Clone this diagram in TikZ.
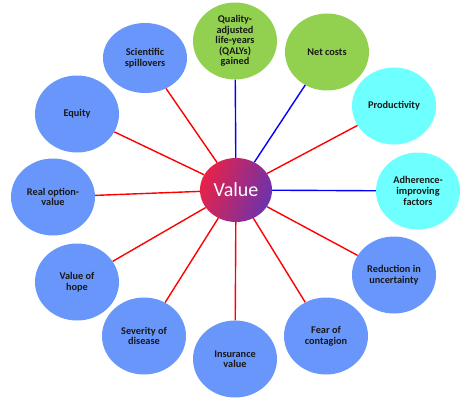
\documentclass[tikz,border=0pt]{standalone}
\usepackage{fontspec}
\setmainfont{Carlito}
\usetikzlibrary{shapes.geometric}
\definecolor{valblue}{RGB}{104,150,250}
\definecolor{valgreen}{RGB}{146,208,80}
\definecolor{valcyan}{RGB}{110,255,255}
\definecolor{valred}{RGB}{232,34,72}
\definecolor{valpurple}{RGB}{108,50,172}

\begin{document}
\begin{tikzpicture}[x=1pt,y=-1pt,
  bubble/.style={ellipse,draw=none,minimum width=84pt,minimum height=77pt,
                 inner sep=0pt,align=center,
                 font=\fontsize{10.3}{10.6}\selectfont\bfseries,text=black!90},
  costs/.style={bubble,fill=valblue},
  health/.style={bubble,fill=valgreen},
  extra/.style={bubble,fill=valcyan},
  redline/.style={draw=red,line width=1.4pt},
  blueline/.style={draw=blue,line width=1.4pt},
]
\useasboundingbox (0,0) rectangle (468,409);

% Centre
\node[ellipse,minimum width=72pt,minimum height=64pt,inner sep=0pt,
      left color=valred,right color=valpurple,shading angle=70,
      text=white,font=\fontsize{20}{22}\selectfont] (value) at (236,190) {Value};

% Health gains and costs
\node[health] (qaly) at (235,41)  {Quality-\\adjusted\\life-years\\(QALYs)\\gained};
\node[health] (net)  at (327,52)  {Net costs};

% Other elements
\node[extra] (prod) at (394,106) {Productivity};
\node[extra] (adh)  at (418,191) {Adherence-\\improving\\factors};

% Novel elements
\node[costs] (red)  at (394,275) {Reduction in\\uncertainty};
\node[costs] (fear) at (326,336) {Fear of\\contagion};
\node[costs] (ins)  at (235,359) {Insurance\\value};
\node[costs] (sev)  at (144,336) {Severity of\\disease};
\node[costs] (hope) at (77,282)  {Value of\\hope};
\node[costs] (opt)  at (53,197)  {Real option-\\value};
\node[costs] (eq)   at (77,114)  {Equity};
\node[costs,minimum height=70pt] (sci) at (145,58) {Scientific\\spillovers};

\draw[blueline] (value) -- (qaly);
\draw[blueline] (value) -- (net);
\draw[blueline] (value) -- (adh);
\foreach \n in {prod,red,fear,ins,sev,hope,opt,eq,sci}
  \draw[redline] (value) -- (\n);
\end{tikzpicture}
\end{document}
